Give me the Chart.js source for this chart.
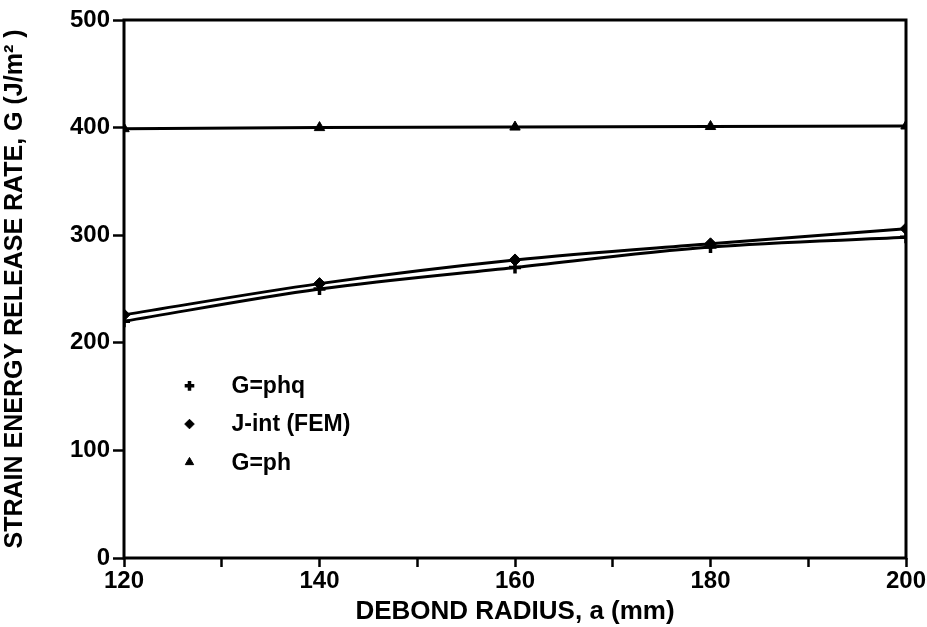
<!DOCTYPE html>
<html lang="en">

<head>
    <meta charset="UTF-8">
    <title>Strain energy release rate</title>
    <script src="https://cdn.jsdelivr.net/npm/chart.js"></script>
    <style>
        body {
            margin: 0;
            padding: 0;
            background: #fff;
        }

        .wrap {
            width: 927px;
            height: 627px;
            position: relative;
        }
    </style>
</head>

<body>
    <div class="wrap">
        <canvas id="chart" width="927" height="627"></canvas>
    </div>

    <script>
        // data
        const radius = [120, 140, 160, 180, 200];
        const gPhq = [220, 250, 270, 289, 298];
        const jInt = [226, 255, 277, 292, 306];
        const gPh = [399, 400, 400.5, 401, 401.5];
        const seriesNames = ['G=phq', 'J-int (FEM)', 'G=ph'];
        const yTicks = [0, 100, 200, 300, 400, 500];

        const FONT = '"Liberation Sans", Arial, sans-serif';

        function toPoints(ys) {
            return radius.map((x, i) => ({ x: x, y: ys[i] }));
        }

        // frame round the plot + legend inside the plot
        const framePlugin = {
            id: 'frame',
            afterDraw(chart) {
                const ctx = chart.ctx;
                const a = chart.chartArea;
                ctx.save();
                ctx.strokeStyle = '#000';
                ctx.lineWidth = 3;
                ctx.strokeRect(a.left, a.top, a.right - a.left, a.bottom - a.top);

                // legend
                const xs = chart.scales.x, ys = chart.scales.y;
                const mx = xs.getPixelForValue(126.7);
                const tx = xs.getPixelForValue(131);
                const rows = [160, 124.5, 89];
                ctx.font = 'bold 23px ' + FONT;
                ctx.fillStyle = '#000';
                ctx.textBaseline = 'middle';
                chart.data.datasets.forEach((ds, i) => {
                    const py = ys.getPixelForValue(rows[i]);
                    ctx.strokeStyle = '#000';
                    ctx.fillStyle = '#000';
                    ctx.lineWidth = ds.pointBorderWidth;
                    Chart.helpers.drawPoint(ctx, {
                        pointStyle: ds.pointStyle,
                        radius: ds.pointRadius * 0.8,
                        rotation: 0,
                        borderWidth: ds.pointBorderWidth
                    }, mx, py);
                    ctx.fillText(seriesNames[i], tx, py + 1);
                });
                ctx.restore();
            }
        };

        const ctx = document.getElementById('chart').getContext('2d');
        new Chart(ctx, {
            type: 'line',
            data: {
                datasets: [{
                    label: seriesNames[0],
                    data: toPoints(gPhq),
                    borderColor: '#000',
                    backgroundColor: '#000',
                    borderWidth: 3,
                    pointStyle: 'cross',
                    pointRadius: 6,
                    pointBorderWidth: 3.5,
                    cubicInterpolationMode: 'monotone'
                }, {
                    label: seriesNames[1],
                    data: toPoints(jInt),
                    borderColor: '#000',
                    backgroundColor: '#000',
                    borderWidth: 3,
                    pointStyle: 'rectRot',
                    pointRadius: 6,
                    pointBorderWidth: 1,
                    cubicInterpolationMode: 'monotone'
                }, {
                    label: seriesNames[2],
                    data: toPoints(gPh),
                    borderColor: '#000',
                    backgroundColor: '#000',
                    borderWidth: 3,
                    pointStyle: 'triangle',
                    pointRadius: 6,
                    pointBorderWidth: 1,
                    tension: 0
                }]
            },
            options: {
                responsive: false,
                animation: false,
                layout: { padding: { top: 20, right: 21, left: 0, bottom: 0 } },
                plugins: {
                    legend: { display: false },
                    tooltip: { enabled: false }
                },
                scales: {
                    x: {
                        type: 'linear',
                        min: 120,
                        max: 200,
                        border: { display: false },
                        grid: {
                            drawOnChartArea: false,
                            drawTicks: true,
                            tickLength: 9,
                            tickWidth: 2.5,
                            color: '#000'
                        },
                        ticks: {
                            stepSize: 10,
                            autoSkip: false,
                            maxRotation: 0,
                            color: '#000',
                            padding: 0,
                            font: { family: FONT, size: 24, weight: 'bold' },
                            callback: v => (v % 20 === 0 ? String(v) : '')
                        },
                        title: {
                            display: true,
                            text: 'DEBOND RADIUS, a (mm)',
                            color: '#000',
                            padding: { top: 0, bottom: 0 },
                            font: { family: FONT, size: 26, weight: 'bold' }
                        },
                        afterFit: s => { s.height = 69; }
                    },
                    y: {
                        min: 0,
                        max: 500,
                        border: { display: false },
                        afterBuildTicks: s => { s.ticks = yTicks.map(v => ({ value: v })); },
                        grid: {
                            drawOnChartArea: false,
                            drawTicks: true,
                            tickLength: 11,
                            tickWidth: 2.5,
                            color: '#000'
                        },
                        ticks: {
                            color: '#000',
                            padding: 3,
                            font: { family: FONT, size: 24, weight: 'bold' }
                        },
                        title: {
                            display: true,
                            text: 'STRAIN ENERGY RELEASE RATE, G (J/m\u00B2 )',
                            color: '#000',
                            padding: { top: 0, bottom: 2 },
                            font: { family: FONT, size: 25, weight: 'bold' }
                        },
                        afterFit: s => { s.width = 124; }
                    }
                }
            },
            plugins: [framePlugin]
        });
    </script>
</body>

</html>
